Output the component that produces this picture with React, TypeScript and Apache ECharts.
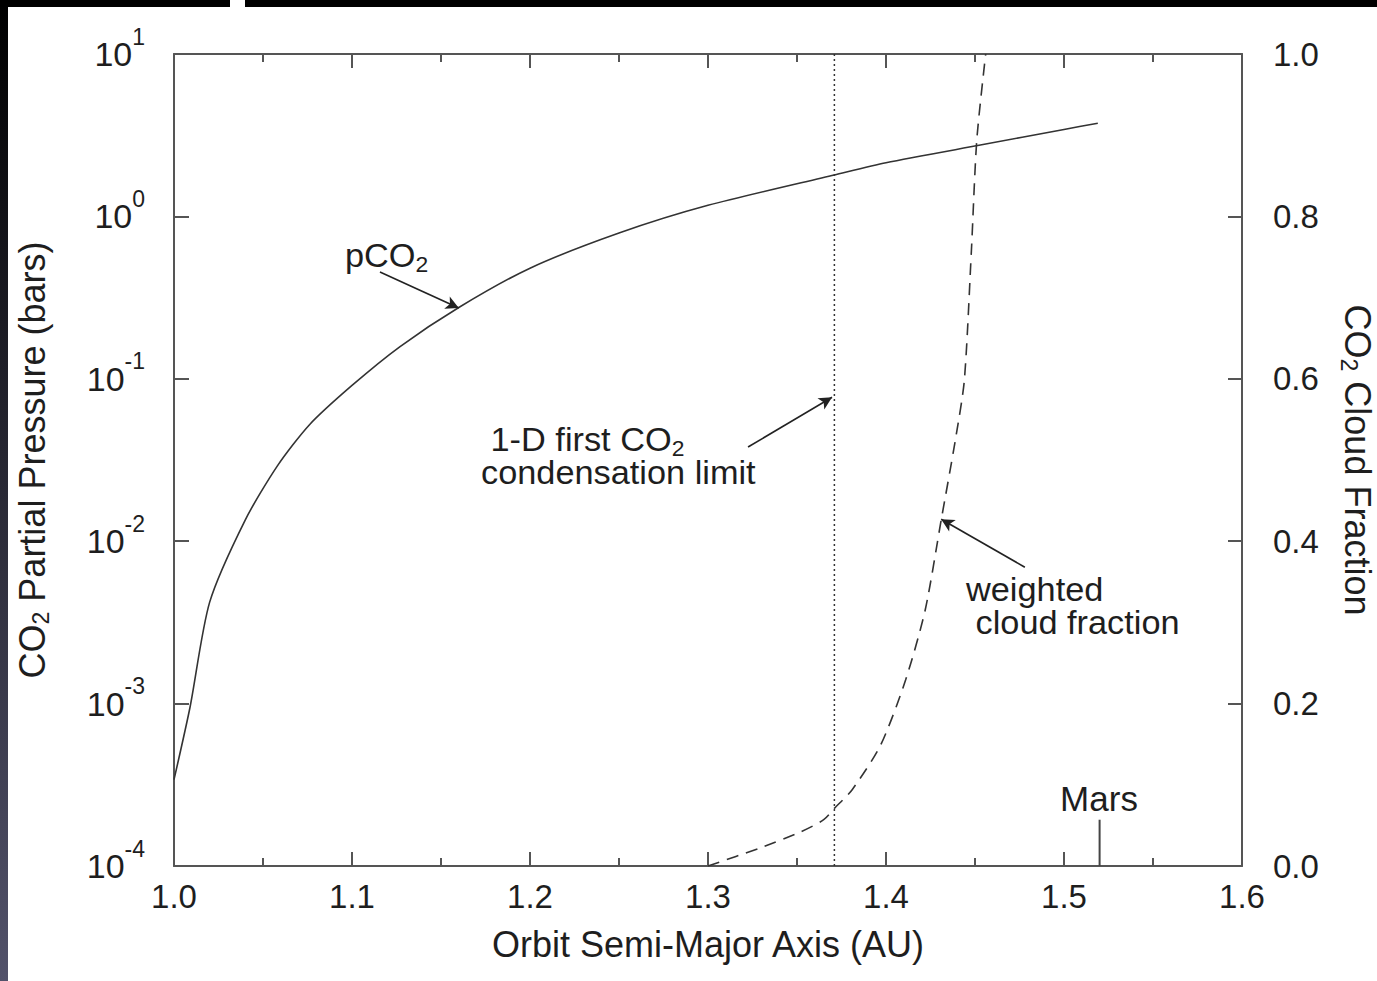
import React, { useEffect, useRef } from "react";
import * as echarts from "echarts";

// ---- data ----
const pco2X = [1.0, 1.009, 1.02, 1.04, 1.058, 1.076, 1.1, 1.127, 1.16, 1.2, 1.25, 1.3, 1.371, 1.4, 1.453, 1.5, 1.519];
const pco2Y = [3.4e-4, 9.5e-4, 4.2e-3, 1.35e-2, 2.9e-2, 5.2e-2, 9.1e-2, 0.158, 0.275, 0.48, 0.79, 1.17, 1.8, 2.14, 2.75, 3.43, 3.75];

const cloudX = [1.3, 1.329, 1.352, 1.365, 1.371, 1.381, 1.397, 1.411, 1.422, 1.431, 1.439, 1.444, 1.448, 1.451, 1.456];
const cloudY = [0.0, 0.022, 0.042, 0.057, 0.071, 0.094, 0.149, 0.229, 0.315, 0.426, 0.525, 0.598, 0.759, 0.894, 1.0];

const condLimitX = [1.371, 1.371];
const condLimitY = [1e-4, 10];

const marsX = [1.52, 1.52];
const marsY = [0.0, 0.057];

// arrows: [fromX, fromY, toX, toY]
const pco2Arrow = [1.1157, 0.455, 1.16, 0.273];
const condArrow = [1.3225, 0.038, 1.3697, 0.077];
const cloudArrow = [1.478, 0.368, 1.431, 0.427];

const FONT = "'Liberation Sans', Arial, Helvetica, sans-serif";
const TXT = "#1e1e1e";
const AX = "#555";

const zip = (a: number[], b: number[]) => a.map((v, i) => [v, b[i]]);

export default function App() {
  const ref = useRef<HTMLDivElement>(null);
  useEffect(() => {
    if (!ref.current) return;
    const chart = echarts.init(ref.current, undefined, { renderer: "svg" });
    const arrowLine = (a: number[]) => ({
      silent: true,
      symbol: ["none", "arrow"],
      symbolSize: [10, 13],
      label: { show: false },
      lineStyle: { color: "#222", width: 1.6, type: "solid" },
      data: [[{ coord: [a[0], a[1]] }, { coord: [a[2], a[3]] }]],
    });
    const tickStyle = { color: AX, width: 2 };
    const subRich = (size: number, lh: number, subLh: number) => ({
      a: { fontFamily: FONT, fontSize: size, fill: TXT, color: TXT, lineHeight: lh },
      s: { fontFamily: FONT, fontSize: 23, fill: TXT, color: TXT, lineHeight: subLh, verticalAlign: "bottom" },
    });
    // annotation rich: subscript lowered through top padding
    const annRich = (lh: number) => ({
      a: { fontFamily: FONT, fontSize: 33, fill: TXT, lineHeight: lh },
      s: { fontFamily: FONT, fontSize: 22, fill: TXT, lineHeight: 8, verticalAlign: "middle", padding: [18, 0, 0, 0] },
    });
    const annot = (x: number, y: number, text: string, lh: number) => ({
      type: "group",
      x,
      y,
      scaleX: 1.04,
      children: [
        {
          type: "text",
          x: 0,
          y: 0,
          style: { text, align: "left", verticalAlign: "middle", rich: annRich(lh) },
        },
      ],
    });
    const option: any = {
      animation: false,
      backgroundColor: "#fff",
      grid: { left: 174, right: 135, top: 54, bottom: 115, containLabel: false, outerBoundsMode: "none" },
      xAxis: [
        {
          type: "value",
          min: 1.0,
          max: 1.6,
          interval: 0.1,
          position: "bottom",
          name: "Orbit Semi-Major Axis (AU)",
          nameLocation: "middle",
          nameGap: 58,
          nameTextStyle: { fontFamily: FONT, fontSize: 36, color: TXT, lineHeight: 40 },
          axisLine: { show: true, lineStyle: { color: AX, width: 2 } },
          axisTick: { show: true, inside: true, length: 14, lineStyle: tickStyle },
          minorTick: { show: true, splitNumber: 2, length: 8, lineStyle: { color: AX, width: 2 } },
          axisLabel: {
            fontFamily: FONT,
            fontSize: 33,
            color: TXT,
            margin: 14,
            formatter: (v: number) => v.toFixed(1),
          },
          splitLine: { show: false },
        },
        {
          type: "value",
          min: 1.0,
          max: 1.6,
          interval: 0.1,
          position: "top",
          axisLine: { show: true, lineStyle: { color: AX, width: 2 } },
          axisTick: { show: true, inside: true, length: 14, lineStyle: tickStyle },
          minorTick: { show: true, splitNumber: 2, length: 8, lineStyle: { color: AX, width: 2 } },
          axisLabel: { show: false },
          splitLine: { show: false },
        },
      ],
      yAxis: [
        {
          type: "log",
          logBase: 10,
          min: 1e-4,
          max: 10,
          position: "left",
          name: "{a|CO}{s|2}{a| Partial Pressure (bars)}",
          nameLocation: "middle",
          nameRotate: 90,
          nameGap: 122,
          nameTextStyle: { rich: subRich(36, 40, 18) },
          axisLine: { show: true, lineStyle: { color: AX, width: 2 } },
          axisTick: { show: true, inside: true, length: 15, lineStyle: tickStyle },
          minorTick: { show: false },
          axisLabel: {
            margin: 29,
            formatter: (v: number) => `{b|10}{p|${Math.round(Math.log10(v))}}`,
            rich: {
              b: { fontFamily: FONT, fontSize: 34, color: TXT, lineHeight: 58 },
              p: { fontFamily: FONT, fontSize: 23, color: TXT, lineHeight: 22, verticalAlign: "top" },
            },
          },
          splitLine: { show: false },
        },
        {
          type: "value",
          min: 0,
          max: 1,
          interval: 0.2,
          position: "right",
          name: "{a|CO}{s|2}{a| Cloud Fraction}",
          nameLocation: "middle",
          nameRotate: -90,
          nameGap: 95,
          nameTextStyle: { rich: subRich(36, 40, 18) },
          axisLine: { show: true, lineStyle: { color: AX, width: 2 } },
          axisTick: { show: true, inside: true, length: 14, lineStyle: tickStyle },
          axisLabel: {
            fontFamily: FONT,
            fontSize: 33,
            color: TXT,
            margin: 31,
            formatter: (v: number) => v.toFixed(1),
          },
          splitLine: { show: false },
        },
      ],
      series: [
        {
          name: "pCO2",
          type: "line",
          xAxisIndex: 0,
          yAxisIndex: 0,
          data: zip(pco2X, pco2Y),
          showSymbol: false,
          smooth: 0.25,
          lineStyle: { color: "#333", width: 1.6 },
          markLine: {
            ...arrowLine(pco2Arrow),
            data: [
              [{ coord: [pco2Arrow[0], pco2Arrow[1]] }, { coord: [pco2Arrow[2], pco2Arrow[3]] }],
              [{ coord: [condArrow[0], condArrow[1]] }, { coord: [condArrow[2], condArrow[3]] }],
            ],
          },
        },
        {
          name: "condensation limit",
          type: "line",
          xAxisIndex: 0,
          yAxisIndex: 0,
          data: zip(condLimitX, condLimitY),
          showSymbol: false,
          lineStyle: { color: "#333", width: 1.5, type: [2, 3] },
        },
        {
          name: "weighted cloud fraction",
          type: "line",
          xAxisIndex: 0,
          yAxisIndex: 1,
          data: zip(cloudX, cloudY),
          showSymbol: false,
          smooth: 0.25,
          lineStyle: { color: "#333", width: 1.6, type: [12, 8] },
          markLine: arrowLine(cloudArrow),
        },
        {
          name: "Mars",
          type: "line",
          xAxisIndex: 0,
          yAxisIndex: 1,
          data: zip(marsX, marsY),
          showSymbol: false,
          lineStyle: { color: "#444", width: 2 },
        },
      ],
      graphic: [
        {
          type: "rect",
          left: 0,
          top: 0,
          shape: { width: 8, height: 981 },
          style: {
            fill: new echarts.graphic.LinearGradient(0, 0, 0, 1, [
              { offset: 0, color: "#000" },
              { offset: 1, color: "#52526a" },
            ]),
          },
          z: 100,
        },
        { type: "rect", left: 0, top: 0, shape: { width: 230, height: 7 }, style: { fill: "#000" }, z: 100 },
        { type: "rect", left: 245, top: 0, shape: { width: 1132, height: 7 }, style: { fill: "#000" }, z: 100 },
        annot(345, 256, "{a|pCO}{s|2}", 34),
        annot(481, 456, "{a| 1-D first CO}{s|2}\n{a|condensation limit}", 33),
        annot(966, 606, "{a|weighted}\n{a| cloud fraction}", 33),
        {
          type: "text",
          x: 1099,
          y: 798,
          style: { text: "Mars", align: "center", verticalAlign: "middle", fontFamily: FONT, fontSize: 35, fill: TXT },
        },
      ],
    };
    chart.setOption(option);
    return () => chart.dispose();
  }, []);
  return (
    <div
      ref={ref}
      style={{ position: "fixed", left: 0, top: 0, width: 1377, height: 981, background: "#fff" }}
    />
  );
}
